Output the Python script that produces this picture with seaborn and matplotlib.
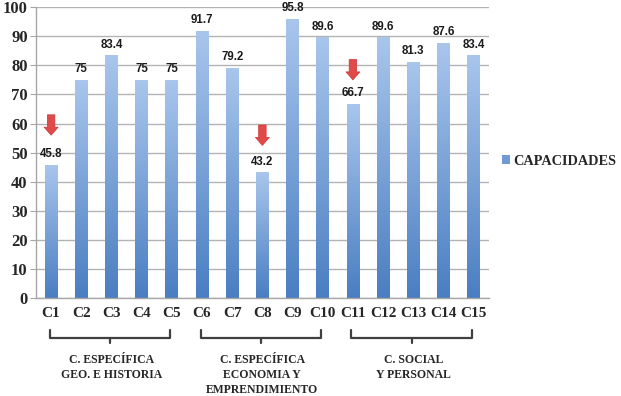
import numpy as np
import matplotlib
matplotlib.use("Agg")
import matplotlib.pyplot as plt
import matplotlib.transforms as mtransforms
from matplotlib.colors import LinearSegmentedColormap
from matplotlib.patches import Patch
import seaborn as sns

# data
categories = ["C1", "C2", "C3", "C4", "C5", "C6", "C7", "C8",
              "C9", "C10", "C11", "C12", "C13", "C14", "C15"]
values = [45.8, 75, 83.4, 75, 75, 91.7, 79.2, 43.2,
          95.8, 89.6, 66.7, 89.6, 81.3, 87.6, 83.4]
series_name = "CAPACIDADES"

group_labels = ["C. ESPECÍFICA\nGEO. E HISTORIA",
                "C. ESPECÍFICA\nECONOMIA Y\nEMPRENDIMIENTO",
                "C. SOCIAL\nY PERSONAL"]
group_ranges = [(0, 4), (5, 9), (10, 14)]

# bars flagged with a red arrow, and the value where each arrow starts
arrow_idx = [0, 7, 10]
arrow_top = [63, 59.5, 82]

sns.set_style("white")
plt.rcParams['font.family'] = ['Liberation Serif', 'DejaVu Serif']

fig = plt.figure(figsize=(6.21, 3.96), dpi=100)
ax = fig.add_axes([0.058, 0.247, 0.729, 0.735])

sns.barplot(x=categories, y=values, color="#6f9ad3", width=0.42,
            ax=ax, zorder=2)

# vertical gradient on every bar
cmap = LinearSegmentedColormap.from_list("bar", ["#4a7ec2", "#a9c6ec"])
grad = np.linspace(0, 1, 256).reshape(-1, 1)
for p in ax.patches:
    x0, y0 = p.get_x(), p.get_y()
    w, h = p.get_width(), p.get_height()
    p.set_facecolor("none")
    p.set_edgecolor("none")
    im = ax.imshow(grad, cmap=cmap, origin="lower", aspect="auto",
                   extent=[x0, x0 + w, y0, y0 + h], zorder=2)
    im.set_clip_path(p)

ax.set_xlim(-0.5, len(categories) - 0.5)
ax.set_ylim(0, 100)
ax.set_yticks(range(0, 101, 10))
ax.yaxis.grid(True, color="#b3b3b3", lw=1)
ax.set_axisbelow(True)
for s in ["top", "right"]:
    ax.spines[s].set_visible(False)
for s in ["left", "bottom"]:
    ax.spines[s].set_color("#a6a6a6")
    ax.spines[s].set_linewidth(1)

ax.set_xticks(np.arange(-0.5, len(categories)), minor=True)
ax.tick_params(axis="x", which="major", length=0, pad=6,
               labelsize=11)
ax.tick_params(axis="x", which="minor", length=5, color="#a6a6a6",
               direction="out")
ax.tick_params(axis="y", length=4, color="#a6a6a6", labelsize=12, pad=2)
ax.tick_params(axis="both", bottom=True, left=True)
ax.tick_params(axis="x", which="major", bottom=False)
for lab in ax.get_xticklabels() + ax.get_yticklabels():
    lab.set_fontweight("bold")
ax.set_xlabel("")
ax.set_ylabel("")

# value labels
for i, v in enumerate(values):
    ax.annotate(f"{v:g}", (i, v), xytext=(0, 3.5), textcoords="offset points",
                ha="center", va="bottom", fontsize=8.3, fontweight="bold",
                family=["Liberation Sans", "DejaVu Sans"], color="#1a1a1a")

# red down arrows
for i, t in zip(arrow_idx, arrow_top):
    ax.annotate("", xy=(i, t - 7), xytext=(i, t),
                arrowprops=dict(arrowstyle="simple,head_width=1.4,head_length=0.8,tail_width=0.75",
                                mutation_scale=7.2, fc="#e04a48", ec="#c83a38",
                                lw=0.5, shrinkA=0, shrinkB=0), zorder=4)

# brackets under the groups
trans = mtransforms.blended_transform_factory(ax.transData, fig.transFigure)
y_top, y_mid, y_tip = 0.167, 0.146, 0.134
for (a, b), text in zip(group_ranges, group_labels):
    xa, xb = a - 0.05, b - 0.05
    xm = (xa + xb) / 2
    ax.plot([xa, xa, xb, xb], [y_top, y_mid, y_mid, y_top], transform=trans,
            color="#404040", lw=1.6, clip_on=False, solid_joinstyle="round")
    ax.plot([xm, xm], [y_mid, y_tip], transform=trans, color="#404040",
            lw=1.6, clip_on=False)
    ax.text(xm + 0.05, 0.106, text, transform=trans, ha="center", va="top",
            fontsize=8.5, fontweight="bold", linespacing=1.33)

# legend
handle = Patch(facecolor="#6f9ad3", edgecolor="none", label=series_name)
fig.legend(handles=[handle], loc="center left", bbox_to_anchor=(0.808, 0.593),
           frameon=False, handlelength=0.55, handleheight=0.55,
           handletextpad=0.25, borderpad=0, borderaxespad=0,
           prop={"weight": "bold", "size": 10.3})

fig.savefig("out.png", dpi=100)
